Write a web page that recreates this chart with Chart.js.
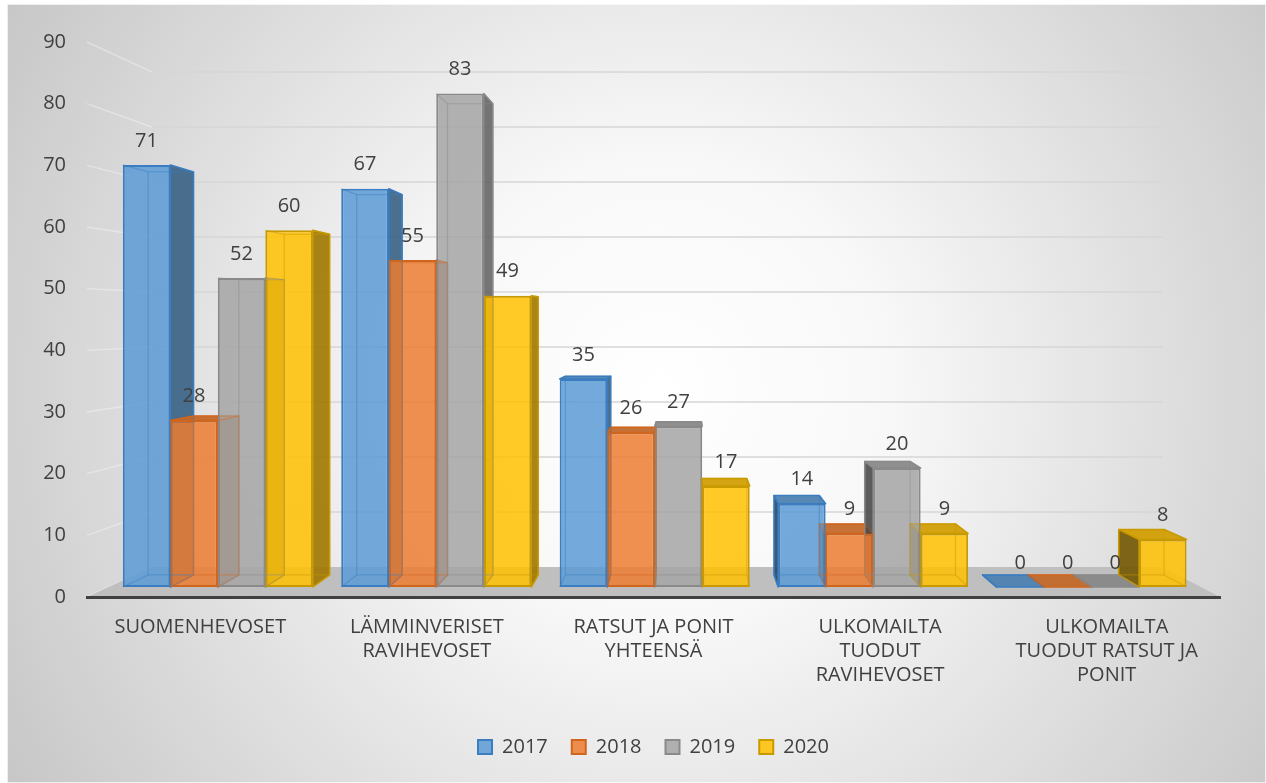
<!DOCTYPE html>
<html><head><meta charset="utf-8">
<script src="https://cdn.jsdelivr.net/npm/chart.js@4.4.1/dist/chart.umd.min.js"></script>
<style>html,body{margin:0;padding:0;background:#fff;overflow:hidden}#wrap{width:1266px;height:783px;position:relative}canvas{display:block}</style>
</head><body><div id="wrap"><canvas id="c" width="1266" height="783" style="width:1266px;height:783px"></canvas></div>
<script>
const categories = [['SUOMENHEVOSET'], ['LÄMMINVERISET', 'RAVIHEVOSET'], ['RATSUT JA PONIT', 'YHTEENSÄ'], ['ULKOMAILTA', 'TUODUT', 'RAVIHEVOSET'], ['ULKOMAILTA', 'TUODUT RATSUT JA', 'PONIT']];
const years = ['2017', '2018', '2019', '2020'];
const values2017 = [71, 67, 35, 14, 0];
const values2018 = [28, 55, 26, 9, 0];
const values2019 = [52, 83, 27, 20, 0];
const values2020 = [60, 49, 17, 9, 8];
const yTicks = [0, 10, 20, 30, 40, 50, 60, 70, 80, 90];
const seriesValues = [values2017, values2018, values2019, values2020];
const seriesColors = ['#5B9BD5', '#ED7D31', '#A5A5A5', '#FFC000'];
const borderColors = ['#3A7DC0', '#D0661E', '#8A8A8A', '#C99A00'];

// perspective constants (fractions of plot area / depth fractions toward vanishing point)
const VPX = 0.529, VPY = 0.5, D_FRONT = 0.036, D_BAR = 0.045, D_WALL = 0.108;
const Y_MAX = yTicks[yTicks.length - 1];

function rgba(hex, f, a) {
  const n = parseInt(hex.slice(1), 16);
  return 'rgba(' + Math.round((n >> 16 & 255) * f) + ',' + Math.round((n >> 8 & 255) * f) + ',' + Math.round((n & 255) * f) + ',' + a + ')';
}
function vp(ca) { return [ca.left + VPX * (ca.right - ca.left), ca.top + VPY * (ca.bottom - ca.top)]; }
function toward(p, v, d) { return [v[0] + (1 - d) * (p[0] - v[0]), v[1] + (1 - d) * (p[1] - v[1])]; }
function poly(ctx, pts, fill, stroke, lw) {
  ctx.beginPath();
  ctx.moveTo(pts[0][0], pts[0][1]);
  for (let i = 1; i < pts.length; i++) ctx.lineTo(pts[i][0], pts[i][1]);
  ctx.closePath();
  if (fill) { ctx.fillStyle = fill; ctx.fill(); }
  if (stroke) { ctx.strokeStyle = stroke; ctx.lineWidth = lw || 1.5; ctx.lineJoin = 'round'; ctx.stroke(); }
}
function line(ctx, a, b, col, lw) {
  ctx.beginPath(); ctx.moveTo(a[0], a[1]); ctx.lineTo(b[0], b[1]);
  ctx.strokeStyle = col; ctx.lineWidth = lw; ctx.stroke();
}

// hidden bar scales: category centres projected to the bars' front plane
const N = categories.length;
const xa = VPX + (1 - D_FRONT) * (0.5 / N - VPX), xbStep = (1 - D_FRONT) / N;
const xbMin = -xa / xbStep, xbMax = (1 - xa) / xbStep;
const ybMin = Y_MAX * ((0 - VPY) / (1 - D_FRONT) + VPY), ybMax = Y_MAX * ((1 - VPY) / (1 - D_FRONT) + VPY);

const background = {
  id: 'background',
  beforeDraw(chart) {
    const { ctx, width, height } = chart;
    ctx.save();
    ctx.fillStyle = '#ffffff'; ctx.fillRect(0, 0, width, height);
    const g = ctx.createRadialGradient(660, 390, 0, 660, 390, 770);
    g.addColorStop(0, '#ffffff'); g.addColorStop(0.3, '#f8f8f8'); g.addColorStop(1, '#c6c6c6');
    ctx.fillStyle = g; ctx.fillRect(7, 4, width - 7, height - 4);
    ctx.strokeStyle = 'rgba(255,255,255,0.7)'; ctx.lineWidth = 1;
    ctx.strokeRect(7.5, 4.5, width - 8, height - 5);
    ctx.restore();
  }
};

function barGeom(el, v) {
  const p = el.getProps(['x', 'y', 'base', 'width'], true);
  const x0 = p.x - p.width / 2, x1 = p.x + p.width / 2;
  const t = Math.min(p.y, p.base), b = Math.max(p.y, p.base);
  const F = { t0: [x0, t], t1: [x1, t], b0: [x0, b], b1: [x1, b] };
  const B = { t0: toward(F.t0, v, D_BAR), t1: toward(F.t1, v, D_BAR), b0: toward(F.b0, v, D_BAR), b1: toward(F.b1, v, D_BAR) };
  return { p, x0, x1, t, b, F, B };
}

const bars3d = {
  id: 'bars3d',
  beforeDatasetsDraw(chart) {
    const ctx = chart.ctx, ca = chart.chartArea, v = vp(ca), ys = chart.scales.y;
    ctx.save();
    yTicks.forEach(tk => {
      const y = ys.getPixelForValue(tk);
      const fl = [ca.left, y], bl = toward(fl, v, D_WALL), br = toward([ca.right, y], v, D_WALL);
      if (tk > 0) line(ctx, bl, br, '#d6d6d6', 1.6);
      line(ctx, fl, bl, 'rgba(255,255,255,0.35)', 1.4);
    });
    const f0 = [ca.left, ca.bottom], f1 = [ca.right, ca.bottom];
    poly(ctx, [f0, f1, toward(f1, v, D_WALL), toward(f0, v, D_WALL)], '#bfbfbf');
    chart.data.datasets.forEach((ds, i) => {
      const meta = chart.getDatasetMeta(i);
      const c = seriesColors[i], bc = borderColors[i];
      meta.data.forEach(el => {
        const g = barGeom(el, v);
        if (g.t > v[1] - 0.5) poly(ctx, [g.F.t0, g.F.t1, g.B.t1, g.B.t0], rgba(c, 0.82, 0.93), bc, 1.5);
        if (g.x1 < v[0]) poly(ctx, [g.F.t1, g.F.b1, g.B.b1, g.B.t1], rgba(c, 0.62, 0.9), bc, 1.5);
        if (g.x0 > v[0]) poly(ctx, [g.F.t0, g.F.b0, g.B.b0, g.B.t0], rgba(c, 0.45, 0.9), bc, 1.5);
      });
    });
    ctx.restore();
  },
  afterDatasetsDraw(chart) {
    const ctx = chart.ctx, ca = chart.chartArea, v = vp(ca);
    ctx.save();
    chart.data.datasets.forEach((ds, i) => {
      const meta = chart.getDatasetMeta(i);
      const bc = borderColors[i];
      meta.data.forEach(el => {
        const g = barGeom(el, v);
        const col = rgba(bc, 1, 0.45);
        poly(ctx, [g.B.t0, g.B.t1, g.B.b1, g.B.b0], null, col, 1.2);
        line(ctx, g.F.t0, g.B.t0, col, 1.2);
        line(ctx, g.F.t1, g.B.t1, col, 1.2);
        line(ctx, g.F.b0, g.B.b0, col, 1.2);
        line(ctx, g.F.b1, g.B.b1, col, 1.2);
      });
    });
    ctx.fillStyle = '#404040';
    ctx.font = "20px 'Open Sans'";
    ctx.textAlign = 'center'; ctx.textBaseline = 'middle';
    chart.data.datasets.forEach((ds, i) => {
      const meta = chart.getDatasetMeta(i);
      meta.data.forEach((el, j) => {
        const p = el.getProps(['x', 'y'], true);
        ctx.fillText(String(seriesValues[i][j]), p.x, p.y - 24);
      });
    });
    ctx.restore();
  }
};

Chart.defaults.font.family = "'Open Sans', sans-serif";
Chart.defaults.font.size = 20;
Chart.defaults.color = '#404040';

new Chart(document.getElementById('c'), {
  type: 'bar',
  data: {
    labels: categories,
    datasets: years.map((yr, i) => ({
      label: yr,
      data: seriesValues[i].map((val, j) => ({ x: j, y: val })),
      xAxisID: 'xb',
      yAxisID: 'yb',
      backgroundColor: rgba(seriesColors[i], 1, 0.85),
      borderColor: borderColors[i],
      borderWidth: 2,
      borderSkipped: false,
      barPercentage: 1,
      categoryPercentage: 0.87
    }))
  },
  options: {
    responsive: false,
    animation: false,
    devicePixelRatio: 1,
    layout: { padding: { left: 10, right: 46, top: 42, bottom: 16 } },
    plugins: {
      legend: {
        position: 'bottom',
        fullSize: false,
        labels: { boxWidth: 14, boxHeight: 14, padding: 24, color: '#404040', font: { size: 20 } }
      },
      tooltip: { enabled: false }
    },
    scales: {
      x: {
        type: 'category', axis: 'x', offset: true,
        grid: { display: false, drawTicks: false },
        border: { display: true, color: '#404040', width: 3, z: 1 },
        ticks: { padding: 18, maxRotation: 0, autoSkip: false, color: '#404040', font: { size: 20 } },
        afterFit(s) { s.height = 116; }
      },
      y: {
        type: 'linear', axis: 'y', min: 0, max: Y_MAX,
        grid: { display: false, drawTicks: false },
        border: { display: false },
        ticks: { stepSize: 10, padding: 21, color: '#404040', font: { size: 20 } },
        afterFit(s) { s.width = 77; }
      },
      xb: {
        type: 'linear', axis: 'x', display: false, offset: false, min: xbMin, max: xbMax,
        grid: { offset: false },
        afterBuildTicks(s) { s.ticks = categories.map((c, i) => ({ value: i })); }
      },
      yb: {
        type: 'linear', axis: 'y', display: false, min: ybMin, max: ybMax
      }
    }
  },
  plugins: [background, bars3d]
});
</script>
</body></html>
